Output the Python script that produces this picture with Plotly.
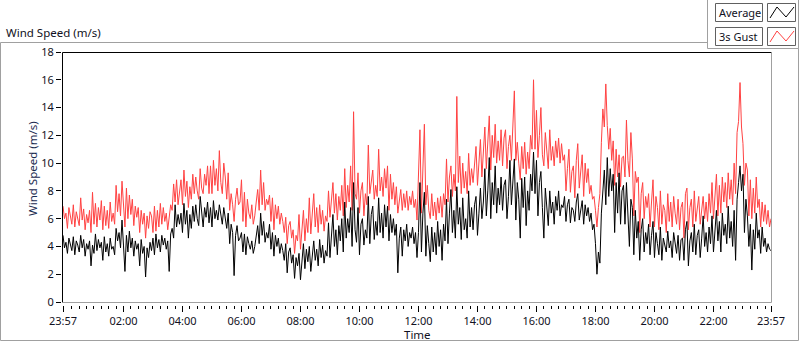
import pandas as pd
import plotly.graph_objects as go

# ---- data (~3-minute samples) ----
start_time = "2015-01-01 23:57"
end_time = "2015-01-02 23:57"

gust = [
    6.9, 6.0, 6.4, 5.3, 6.8, 6.2, 5.6, 7.0, 5.4, 6.5, 6.1, 5.5, 7.5, 5.9, 6.7, 5.2, 6.3, 5.7, 6.6, 5.0,
    7.9, 5.6, 7.1, 5.4, 6.8, 5.9, 7.3, 5.2, 6.9, 5.5, 6.6, 5.3, 7.2, 5.8, 6.4, 5.6, 8.4, 6.5, 7.8, 6.2,
    8.7, 6.7, 5.4, 8.2, 6.0, 7.7, 6.3, 7.4, 5.5, 6.9, 6.1, 6.8, 5.0, 6.6, 5.6, 6.4, 4.6, 6.2, 5.3, 6.5,
    6.2, 5.0, 6.9, 5.1, 6.6, 5.4, 7.1, 5.6, 6.8, 5.8, 6.4, 5.2, 6.0, 7.0, 6.6, 8.5, 7.2, 8.8, 7.0, 8.2,
    8.8, 7.0, 9.5, 7.6, 8.7, 6.8, 8.3, 7.4, 9.2, 7.8, 9.0, 8.0, 7.4, 9.6, 8.2, 7.8, 9.2, 8.4, 9.8, 7.8,
    9.8, 7.8, 10.2, 8.4, 9.6, 8.0, 10.9, 8.6, 7.8, 10.0, 9.0, 7.4, 9.3, 6.6, 7.8, 7.0, 5.8, 7.4, 8.2, 7.0,
    7.2, 8.8, 5.8, 7.9, 5.4, 7.4, 6.4, 6.0, 7.0, 5.6, 6.2, 7.2, 8.1, 6.6, 9.5, 7.0, 8.6, 6.6, 7.4, 7.0,
    7.7, 5.8, 7.5, 5.2, 7.0, 6.0, 6.9, 5.6, 6.4, 5.8, 5.0, 6.1, 4.2, 5.5, 5.8, 4.6, 5.2, 3.5, 4.8, 4.4,
    6.3, 3.8, 5.2, 6.6, 4.4, 6.0, 5.0, 7.5, 4.9, 6.4, 7.8, 5.4, 6.8, 5.0, 7.0, 5.6, 6.6, 5.1, 6.2, 5.8,
    8.0, 6.1, 7.4, 8.6, 6.4, 7.8, 5.9, 7.6, 6.6, 8.4, 6.2, 9.6, 6.8, 8.4, 7.2, 9.8, 6.6, 13.7, 7.8, 7.4,
    9.3, 6.4, 8.0, 8.6, 6.2, 7.8, 7.0, 11.3, 7.8, 8.8, 9.5, 7.4, 8.4, 7.6, 11.0, 8.0, 9.0, 7.6, 9.6, 8.2,
    9.8, 6.6, 9.2, 7.4, 8.6, 7.0, 8.3, 6.4, 7.2, 8.1, 6.6, 7.8, 6.8, 8.0, 6.6, 7.6, 7.0, 8.0, 6.8, 7.4,
    5.9, 9.0, 12.4, 6.4, 10.0, 12.8, 7.0, 8.4, 6.6, 6.0, 7.8, 6.2, 7.2, 5.9, 7.5, 6.4, 7.6, 6.1, 7.8, 7.0,
    10.3, 7.2, 9.0, 9.8, 7.6, 9.2, 8.0, 14.8, 8.6, 10.5, 7.8, 10.0, 8.2, 9.4, 7.8, 10.7, 8.4, 9.6, 8.6, 9.8,
    11.2, 8.4, 10.0, 11.7, 9.0, 10.6, 12.6, 9.6, 11.4, 13.4, 9.5, 12.0, 10.4, 12.8, 10.0, 11.6, 10.2, 12.4, 9.8, 11.8,
    12.4, 9.6, 11.2, 12.0, 10.2, 12.6, 15.2, 10.2, 11.5, 10.0, 8.8, 11.2, 9.6, 11.5, 9.2, 10.8, 9.6, 12.0, 11.0, 16.0,
    11.0, 13.8, 10.4, 12.0, 14.0, 10.6, 9.8, 12.2, 11.0, 9.6, 12.4, 10.2, 11.2, 9.8, 11.6, 10.4, 11.8, 10.0, 11.4, 10.2,
    10.6, 8.0, 9.6, 11.0, 7.9, 9.4, 9.8, 7.5, 10.2, 11.4, 8.2, 9.2, 10.6, 7.6, 10.0, 8.6, 9.6, 7.8, 8.4, 7.4,
    7.6, 6.6, 5.4, 6.8, 7.8, 11.5, 13.9, 12.6, 15.7, 12.7, 11.0, 12.5, 10.2, 11.6, 8.4, 11.0, 9.0, 10.6, 8.3, 10.4,
    10.5, 9.0, 13.1, 10.2, 9.0, 12.2, 10.3, 6.2, 9.4, 8.6, 9.0, 5.0, 7.8, 8.6, 6.0, 7.6, 6.8, 7.8, 5.4, 7.2,
    8.8, 5.4, 7.6, 6.8, 5.2, 8.0, 5.6, 7.0, 6.6, 5.0, 7.8, 5.8, 7.2, 5.4, 7.6, 6.4, 5.6, 7.4, 5.2, 6.8,
    7.2, 4.6, 7.8, 8.2, 5.2, 6.8, 7.4, 5.4, 8.0, 5.8, 7.0, 7.6, 5.6, 6.8, 7.6, 6.0, 7.2, 5.8, 7.8, 6.4,
    8.6, 6.0, 8.0, 9.2, 6.2, 8.4, 6.4, 9.0, 7.2, 8.6, 6.8, 9.3, 7.4, 8.8, 7.0, 10.0, 7.8, 12.2, 13.0, 15.8,
    12.6, 11.4, 8.4, 10.0, 9.5, 6.2, 8.8, 6.0, 8.2, 6.4, 9.0, 6.8, 7.4, 5.4, 7.2, 5.8, 7.0, 5.6, 6.6, 5.4,
    6.0,
]

average = [
    4.8, 3.9, 4.3, 3.5, 4.6, 4.0, 3.7, 4.7, 3.4, 4.4, 4.1, 3.6, 4.8, 3.9, 4.5, 3.3, 4.2, 3.8, 4.4, 2.6,
    4.1, 3.5, 4.9, 3.7, 4.5, 3.9, 4.3, 3.0, 4.7, 3.6, 4.2, 3.3, 4.6, 3.8, 4.0, 3.4, 5.3, 4.4, 5.0, 3.9,
    5.9, 4.1, 2.2, 4.8, 3.6, 5.1, 3.9, 4.6, 3.3, 4.4, 3.8, 4.2, 2.6, 4.5, 3.5, 4.0, 1.8, 3.9, 3.2, 4.3,
    3.7, 4.6, 3.4, 4.9, 3.9, 4.5, 3.6, 4.8, 4.1, 4.6, 3.8, 4.4, 2.2, 4.9, 5.3, 4.6, 7.0, 5.4, 6.3, 5.6,
    6.4, 5.0, 7.1, 5.6, 6.6, 4.6, 6.3, 5.3, 6.9, 5.8, 7.0, 6.0, 5.5, 7.6, 6.2, 5.4, 6.8, 6.1, 7.2, 5.7,
    6.8, 5.4, 7.3, 6.0, 6.6, 5.9, 7.0, 6.2, 5.6, 6.8, 6.1, 5.3, 6.4, 4.2, 5.6, 5.0, 1.9, 4.8, 5.5, 4.4,
    4.6, 5.0, 3.6, 4.9, 3.4, 4.7, 4.2, 3.8, 4.4, 3.5, 4.0, 4.6, 5.5, 4.2, 6.4, 4.8, 5.8, 4.3, 5.0, 4.6,
    5.6, 3.8, 5.0, 3.3, 4.8, 4.0, 4.6, 3.5, 4.2, 3.7, 3.0, 4.2, 2.1, 3.6, 3.9, 2.8, 3.4, 1.7, 3.2, 2.6,
    3.5, 1.6, 3.0, 4.2, 2.4, 3.8, 2.9, 4.0, 2.2, 3.6, 4.4, 3.0, 3.8, 2.6, 4.5, 3.2, 4.1, 2.8, 3.7, 3.3,
    5.7, 3.2, 4.8, 6.3, 4.0, 5.2, 3.4, 5.5, 4.4, 6.0, 3.6, 7.2, 4.6, 6.0, 5.0, 6.8, 4.0, 8.6, 5.2, 4.3,
    6.8, 3.4, 5.6, 6.0, 4.1, 5.2, 4.6, 7.6, 4.2, 6.3, 6.9, 4.5, 5.8, 4.8, 7.5, 5.0, 6.4, 4.6, 7.0, 5.4,
    6.9, 4.4, 6.3, 5.0, 6.0, 4.8, 5.6, 2.1, 4.6, 5.4, 3.3, 5.2, 4.4, 5.6, 4.0, 5.0, 4.6, 5.4, 4.2, 5.0,
    3.2, 5.0, 8.6, 3.6, 6.4, 7.9, 3.3, 5.5, 4.2, 2.9, 5.4, 3.6, 5.0, 3.4, 5.8, 4.0, 5.2, 3.0, 5.6, 4.4,
    7.4, 4.2, 6.4, 8.1, 5.0, 6.6, 4.6, 8.3, 5.6, 6.8, 4.5, 7.5, 5.2, 6.0, 4.6, 8.0, 5.4, 6.8, 5.2, 7.0,
    7.6, 4.8, 6.4, 8.2, 6.0, 7.2, 9.6, 6.2, 8.0, 10.4, 6.0, 8.6, 7.0, 9.8, 6.4, 8.2, 7.0, 9.0, 6.6, 8.4,
    8.8, 6.0, 7.6, 10.2, 7.0, 8.5, 10.3, 5.9, 8.6, 7.4, 4.6, 8.9, 6.8, 9.0, 5.5, 8.0, 6.6, 9.2, 8.0, 10.8,
    7.8, 10.2, 6.2, 8.6, 9.4, 6.8, 4.6, 8.2, 7.0, 5.5, 8.0, 6.4, 7.2, 5.6, 7.6, 6.6, 8.0, 6.2, 7.0, 6.8,
    7.6, 5.8, 7.0, 7.4, 5.7, 6.8, 6.6, 5.8, 7.2, 7.8, 5.9, 6.6, 7.3, 5.6, 7.0, 6.2, 6.8, 5.8, 6.4, 5.2,
    5.6, 4.2, 2.0, 3.6, 2.8, 6.4, 8.2, 9.5, 7.0, 10.4, 7.6, 9.6, 8.0, 9.2, 5.0, 8.6, 6.4, 9.3, 5.6, 8.0,
    8.4, 5.6, 8.6, 6.2, 4.0, 7.4, 6.8, 3.4, 6.6, 4.6, 5.8, 3.0, 5.2, 6.0, 3.6, 5.0, 4.2, 5.6, 3.4, 4.8,
    5.8, 3.2, 5.0, 4.2, 3.4, 5.4, 3.0, 4.6, 4.0, 3.6, 5.1, 3.9, 4.4, 3.2, 5.0, 4.1, 3.5, 4.8, 3.0, 4.5,
    4.6, 3.0, 5.2, 5.8, 2.6, 4.4, 5.0, 3.6, 5.6, 3.4, 4.8, 5.2, 3.2, 4.6, 6.2, 4.0, 5.0, 3.6, 5.4, 4.2,
    6.2, 3.6, 5.4, 6.6, 4.4, 5.8, 3.6, 6.4, 4.8, 5.6, 4.2, 6.9, 4.6, 5.8, 4.0, 6.6, 3.0, 7.4, 8.6, 9.8,
    8.0, 9.2, 5.0, 7.4, 6.2, 4.0, 5.6, 2.3, 5.2, 3.8, 6.4, 4.6, 5.2, 3.5, 5.4, 4.0, 4.6, 3.6, 4.2, 3.8,
    3.7,
]

tick_labels = ["23:57", "02:00", "04:00", "06:00", "08:00", "10:00", "12:00",
               "14:00", "16:00", "18:00", "20:00", "22:00", "23:57"]
y_ticks = [0, 2, 4, 6, 8, 10, 12, 14, 16, 18]

x_gust = pd.date_range(start_time, end_time, periods=len(gust))
x_avg = pd.date_range(start_time, end_time, periods=len(average))
t0, t1 = pd.Timestamp(start_time), pd.Timestamp(end_time)
day = pd.Timestamp("2015-01-02 00:00")
major_vals = [t0] + [day + pd.Timedelta(hours=h) for h in range(2, 23, 2)] + [t1]
minor_vals = [day + pd.Timedelta(minutes=15 * k) for k in range(1, 96) if (15 * k) % 120 != 0]

# ---- pixel helpers (paper area: x 61..771, y 52..305) ----
L, R, T, B = 61, 771, 52, 305
W, H = R - L, B - T


def px(x):
    return (x - L) / W


def py(y):
    return (B - y) / H


fig = go.Figure()
fig.add_trace(go.Scatter(x=x_gust, y=gust, mode="lines", name="3s Gust",
                         line=dict(color="#ff4242", width=1), showlegend=False))
fig.add_trace(go.Scatter(x=x_avg, y=average, mode="lines", name="Average",
                         line=dict(color="#000000", width=1), showlegend=False))

text_col = "#111122"
fam = "Noto Sans, Open Sans, sans-serif"
font = dict(family=fam, size=11, color=text_col)

fig.update_layout(
    width=800, height=342,
    margin=dict(l=L, r=800 - R, t=T, b=342 - B),
    paper_bgcolor="white", plot_bgcolor="white",
    font=font,
    showlegend=False,
    xaxis=dict(
        type="date", domain=[px(63), 1], anchor="free", position=0,
        range=[t0, t1], showgrid=False, zeroline=False, showline=False,
        tickmode="array", tickvals=major_vals, ticktext=tick_labels,
        ticks="outside", ticklen=6, tickwidth=1, tickcolor="#000",
        tickfont=font,
        minor=dict(tickmode="array", tickvals=minor_vals, ticks="outside",
                   ticklen=3, tickwidth=1, tickcolor="#000", showgrid=False),
    ),
    yaxis=dict(
        domain=[py(302), 1], anchor="free", position=0,
        range=[0, 18], tickmode="array", tickvals=y_ticks,
        showgrid=False, zeroline=False, showline=False,
        ticks="outside", ticklen=5, tickwidth=1, tickcolor="#000",
        tickfont=font,
    ),
)

shapes = []
gray = "#a0a0a0"
# outer frame
shapes.append(dict(type="rect", xref="paper", yref="paper",
                   x0=px(0.5), x1=px(798.5), y0=py(340.5), y1=py(42.5),
                   line=dict(color=gray, width=1), fillcolor="rgba(0,0,0,0)", layer="below"))
# plot area border (inset look)
shapes.append(dict(type="line", xref="paper", yref="paper", x0=px(62.5), x1=px(62.5),
                   y0=py(302.5), y1=py(52.5), line=dict(color="#000", width=1)))
shapes.append(dict(type="line", xref="paper", yref="paper", x0=px(62.5), x1=px(771.5),
                   y0=py(52.5), y1=py(52.5), line=dict(color="#000", width=1)))
shapes.append(dict(type="line", xref="paper", yref="paper", x0=px(771.5), x1=px(771.5),
                   y0=py(52.5), y1=py(302.5), line=dict(color=gray, width=1)))
shapes.append(dict(type="line", xref="paper", yref="paper", x0=px(62.5), x1=px(771.5),
                   y0=py(302.5), y1=py(302.5), line=dict(color=gray, width=1)))
# legend panel
shapes.append(dict(type="rect", xref="paper", yref="paper",
                   x0=px(707.5), x1=px(798.5), y0=py(48.5), y1=py(-2),
                   line=dict(color=gray, width=1), fillcolor="white"))
legend_rows = [("Average", "#000000", 3), ("3s Gust", "#ff4242", 27)]
annotations = []
for label, col, ytop in legend_rows:
    shapes.append(dict(type="rect", xref="paper", yref="paper",
                       x0=px(715.5), x1=px(762.5), y0=py(ytop + 18.5), y1=py(ytop + 0.5),
                       line=dict(color="#606060", width=1), fillcolor="white"))
    shapes.append(dict(type="rect", xref="paper", yref="paper",
                       x0=px(767.5), x1=px(795.5), y0=py(ytop + 18.5), y1=py(ytop + 0.5),
                       line=dict(color="#606060", width=1), fillcolor="white"))
    pts = [(770, ytop + 15), (777, ytop + 4), (786, ytop + 14), (794, ytop + 4)]
    path = "M " + " L ".join(f"{px(a)},{py(b)}" for a, b in pts)
    shapes.append(dict(type="path", xref="paper", yref="paper", path=path,
                       line=dict(color=col, width=1)))
    annotations.append(dict(xref="paper", yref="paper", x=px(717), y=py(ytop + 9.5),
                            xanchor="left", yanchor="middle", text=label, showarrow=False,
                            font=dict(family=fam, size=11, color=text_col)))

annotations += [
    dict(xref="paper", yref="paper", x=px(4), y=py(32), xanchor="left", yanchor="middle",
         text="Wind Speed (m/s)", showarrow=False,
         font=dict(family=fam, size=11.5, color=text_col)),
    dict(xref="paper", yref="paper", x=px(32), y=py(169), xanchor="center", yanchor="middle",
         text="Wind Speed (m/s)", textangle=-90, showarrow=False,
         font=dict(family=fam, size=11.5, color="#1a2a50")),
    dict(xref="paper", yref="paper", x=px(417), y=py(334), xanchor="center", yanchor="middle",
         text="Time", showarrow=False,
         font=dict(family=fam, size=11.5, color=text_col)),
]

fig.update_layout(shapes=shapes, annotations=annotations)
fig.write_html("out.html", config={"displayModeBar": False},
               post_script="document.body.style.margin='0';")
